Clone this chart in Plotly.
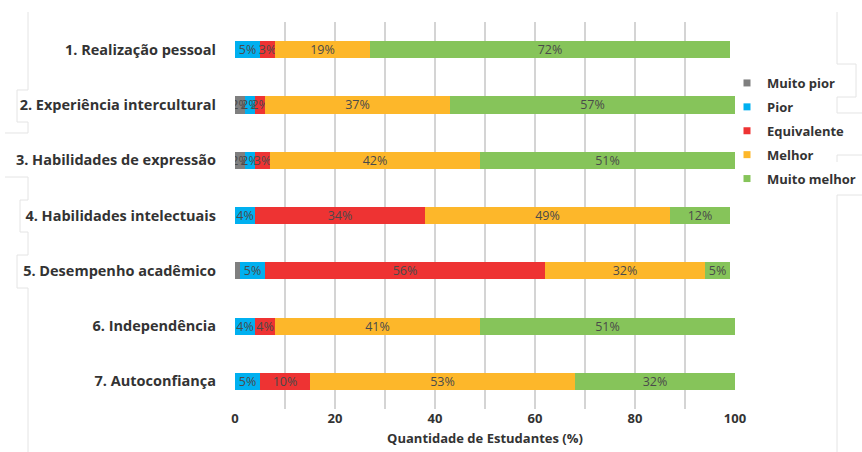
import plotly.graph_objects as go

# Survey items (top to bottom) and response shares in percent
categories = [
    "1. Realização pessoal",
    "2. Experiência intercultural",
    "3. Habilidades de expressão",
    "4. Habilidades intelectuais",
    "5. Desempenho acadêmico",
    "6. Independência",
    "7. Autoconfiança",
]
muito_pior = [0, 2, 2, 0, 1, 0, 0]
pior = [5, 2, 2, 4, 5, 4, 5]
equivalente = [3, 2, 3, 34, 56, 4, 10]
melhor = [19, 37, 42, 49, 32, 41, 53]
muito_melhor = [72, 57, 51, 12, 5, 51, 32]

series_names = ["Muito pior", "Pior", "Equivalente", "Melhor", "Muito melhor"]
series_values = [muito_pior, pior, equivalente, melhor, muito_melhor]
series_colors = ["#7f7f7f", "#00b0f0", "#ee3333", "#fdb72a", "#86c45a"]

x_ticks = [0, 20, 40, 60, 80, 100]

W, H = 862, 452
ML, MR, MT, MB = 235, 127, 22, 43
PW, PH = W - ML - MR, H - MT - MB

FONT = "Open Sans"
TXT = "#333333"

fig = go.Figure()

for name, vals, col in zip(series_names, series_values, series_colors):
    labels = [f"{v}%" if v >= 2 else "" for v in vals]
    fig.add_trace(go.Bar(
        y=categories, x=vals, orientation="h", name=name,
        marker=dict(color=col, line=dict(width=0)),
        width=0.31,
        text=labels, textposition="inside", insidetextanchor="middle",
        textangle=0,
        textfont=dict(family=FONT, size=12.5, color="#4a4a4a"),
        showlegend=False, hoverinfo="skip",
    ))
    # legend entry with a small square marker
    fig.add_trace(go.Scatter(
        x=[None], y=[None], mode="markers", name=name,
        marker=dict(symbol="square", size=7, color=col),
        legendgroup=name,
    ))


def px_path(points):
    """Build an SVG path in paper coordinates from page pixel points."""
    parts = []
    for i, (px, py) in enumerate(points):
        xp = (px - ML) / PW
        yp = (MT + PH - py) / PH
        parts.append(("M" if i == 0 else "L") + f"{xp:.5f},{yp:.5f}")
    return " ".join(parts)


frame_paths = [
    [(28, 12), (28, 90), (17, 90), (17, 122), (28, 122), (28, 133), (5, 133)],
    [(5, 177), (28, 177), (28, 200), (20, 200), (20, 232), (28, 232), (28, 255),
     (17, 255), (17, 288), (28, 288), (28, 452)],
    [(837, 12), (837, 64), (856, 64), (856, 97), (837, 97), (837, 113), (862, 113)],
    [(862, 155), (837, 155), (837, 162)],
    [(862, 195), (837, 195), (837, 452)],
]
shapes = [
    dict(type="path", xref="paper", yref="paper", path=px_path(p),
         line=dict(color="#e4e4e4", width=1), layer="below")
    for p in frame_paths
]

fig.update_layout(
    width=W, height=H,
    margin=dict(l=ML, r=MR, t=MT, b=MB, pad=0, autoexpand=False),
    barmode="stack",
    plot_bgcolor="white", paper_bgcolor="white",
    uniformtext=dict(minsize=12.5, mode="show"),
    font=dict(family=FONT, color=TXT),
    shapes=shapes,
    showlegend=True,
    legend=dict(
        xref="container", yref="container",
        x=727 / W, y=1 - 68 / H, xanchor="left", yanchor="top",
        font=dict(family=FONT, size=13, color=TXT, weight="bold"),
        bgcolor="rgba(0,0,0,0)", tracegroupgap=4,
        itemclick=False, itemdoubleclick=False,
    ),
    xaxis=dict(
        range=[0, 100], tickvals=x_ticks, ticktext=[str(t) for t in x_ticks],
        showgrid=True, gridcolor="#d4d4d4", gridwidth=1.5,
        minor=dict(dtick=10, showgrid=True, gridcolor="#d4d4d4", gridwidth=1.5),
        zeroline=False, showline=False, ticks="",
        tickfont=dict(family=FONT, size=13, color=TXT, weight="bold"),
        title=dict(text="Quantidade de Estudantes (%)", standoff=7,
                   font=dict(family=FONT, size=13, color=TXT, weight="bold")),
        fixedrange=True,
    ),
    yaxis=dict(
        categoryorder="array", categoryarray=categories,
        range=[6.5, -0.5], showgrid=False, zeroline=False, showline=False,
        ticks="", ticklabelstandoff=18,
        tickfont=dict(family=FONT, size=14.5, color=TXT, weight="bold"),
        fixedrange=True,
    ),
)

fig.write_html("out.html")
